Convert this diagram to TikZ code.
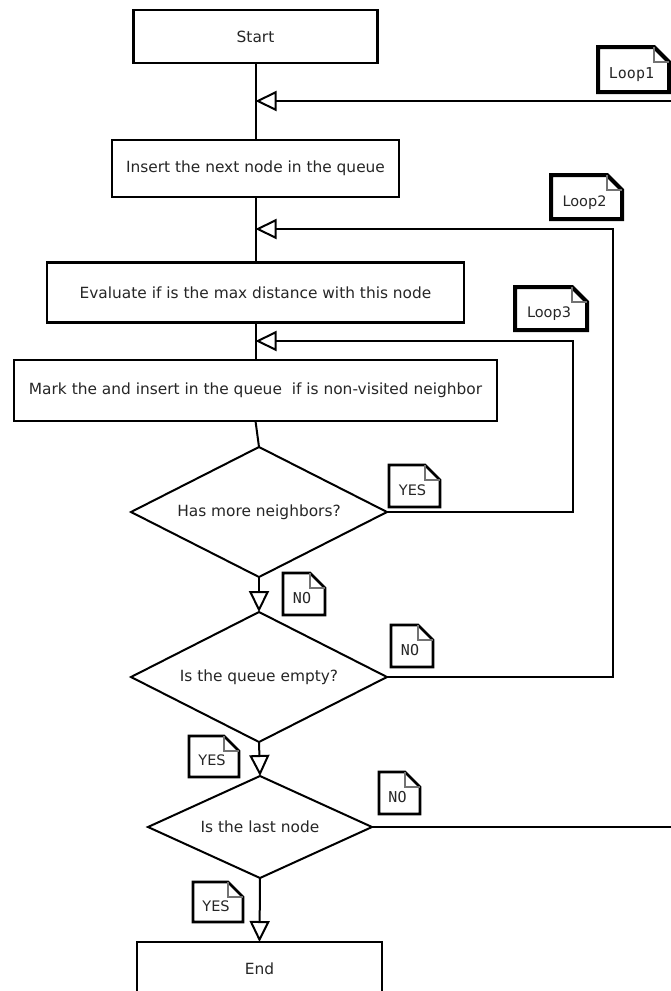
\documentclass[tikz,border=0pt]{standalone}
\usepackage{fontspec}
\setmainfont{DejaVu Sans}
\newfontfamily\memomono{DejaVu Sans Mono}
\usetikzlibrary{arrows.meta,shapes.geometric}

% outline of a memo: rectangle with a folded top-right corner
\newcommand\memooutline[2]{%
  \draw[line width=#2, line join=miter]
    (#1.north west) -- ([xshift=-15pt]#1.north east)
    -- ([yshift=-15pt]#1.north east) -- (#1.south east)
    -- (#1.south west) -- cycle;
  \draw[foldline] ([xshift=-15pt]#1.north east) |- ([yshift=-15pt]#1.north east);
}

\begin{document}
\begin{tikzpicture}[x=1pt, y=-1pt,
  txt/.style={font=\fontsize{15.4}{18}\selectfont, text=black!85},
  stepbox/.style={txt, draw, rectangle, line width=2.4pt, inner sep=0pt, outer sep=0pt, fill=white},
  decision/.style={txt, draw, diamond, shape aspect=2, line width=2pt, inner sep=0pt, outer sep=0pt, fill=white},
  memo/.style={inner sep=0pt, outer sep=0pt, text height=18.5pt, text depth=0pt, text=black!85},
  memosans/.style={memo, font=\fontsize{14.5}{17}\selectfont},
  memott/.style={memo, font=\memomono\fontsize{15}{17}\selectfont},
  foldline/.style={draw=black!55, line width=1.2pt},
  link/.style={line width=2pt},
  flowarrow/.style={link, -{Triangle[open, length=21pt, width=20pt, line width=2pt]}},
]
\useasboundingbox (0,0) rectangle (671,991);
\clip (0,0) rectangle (671,991);

% process steps
\node[stepbox, minimum width=244pt, minimum height=53pt] (start) at (255.5,36.5) {Start};
\node[stepbox, minimum width=287pt, minimum height=57pt] (insert) at (255.5,168.5) {Insert the next node in the queue};
\node[stepbox, minimum width=417pt, minimum height=60pt] (eval) at (255.5,292.5) {Evaluate if is the max distance with this node};
\node[stepbox, minimum width=483pt, minimum height=61pt] (mark) at (255.5,390.5) {Mark the and insert in the queue\ \ if is non-visited neighbor};

% decisions
\node[decision, minimum width=256pt, minimum height=130pt] (more) at (259,512) {Has more neighbors?};
\node[decision, minimum width=256pt, minimum height=130pt] (empty) at (259,677) {Is the queue empty?};
\node[decision, minimum width=224pt, minimum height=102pt] (last) at (260,827) {Is the last node};

\node[stepbox, minimum width=245pt, minimum height=53pt] (finish) at (259.5,968.5) {End};

% junctions on the main line and the open ends of the outer lines
\coordinate (j1) at (255.5,101);
\coordinate (j2) at (255.5,229);
\coordinate (j3) at (255.5,341);
\coordinate (outer) at (671,101);
\coordinate (lastout) at (671,827);

% main line
\draw[link] (start.south) -- (insert.north);
\draw[link] (insert.south) -- (eval.north);
\draw[link] (eval.south) -- (mark.north);
\draw[link] (mark.south) -- (more.north);
\draw[flowarrow] (more.south) -- (empty.north);
\draw[flowarrow] (empty.south) -- (last.north);
\draw[flowarrow] (last.south) -- (finish.north);

% loops back into the main line
\draw[flowarrow] (outer) -- (j1);
\draw[flowarrow] (empty.east) -- ++(226,0) |- (j2);
\draw[flowarrow] (more.east) -- ++(186,0) |- (j3);
\draw[link] (last.east) -- (lastout);

% memos
\node[memott, minimum width=71pt, minimum height=45pt] (m1) at (633.5,69.5) {Loop1\kern4pt};
\node[memosans, minimum width=71pt, minimum height=44pt] (m2) at (586.5,197) {Loop2\kern4pt};
\node[memosans, minimum width=72pt, minimum height=43pt] (m3) at (551,308.5) {Loop3\kern4pt};
\node[memosans, minimum width=51pt, minimum height=42pt] (y1) at (414.5,486) {YES\kern4pt};
\node[memott, minimum width=42pt, minimum height=42pt] (n1) at (304,594) {NO\kern4pt};
\node[memott, minimum width=42pt, minimum height=42pt] (n2) at (412,646) {NO\kern4pt};
\node[memosans, minimum width=50pt, minimum height=41pt] (y2) at (214,756.5) {YES\kern4pt};
\node[memott, minimum width=41pt, minimum height=42pt] (n3) at (399.5,793) {NO\kern4pt};
\node[memosans, minimum width=50pt, minimum height=40pt] (y3) at (218,902) {YES\kern4pt};

\memooutline{m1}{4pt}
\memooutline{m2}{4pt}
\memooutline{m3}{4pt}
\memooutline{y1}{2.6pt}
\memooutline{n1}{2.6pt}
\memooutline{n2}{2.6pt}
\memooutline{y2}{2.6pt}
\memooutline{n3}{2.6pt}
\memooutline{y3}{2.6pt}
\end{tikzpicture}
\end{document}
